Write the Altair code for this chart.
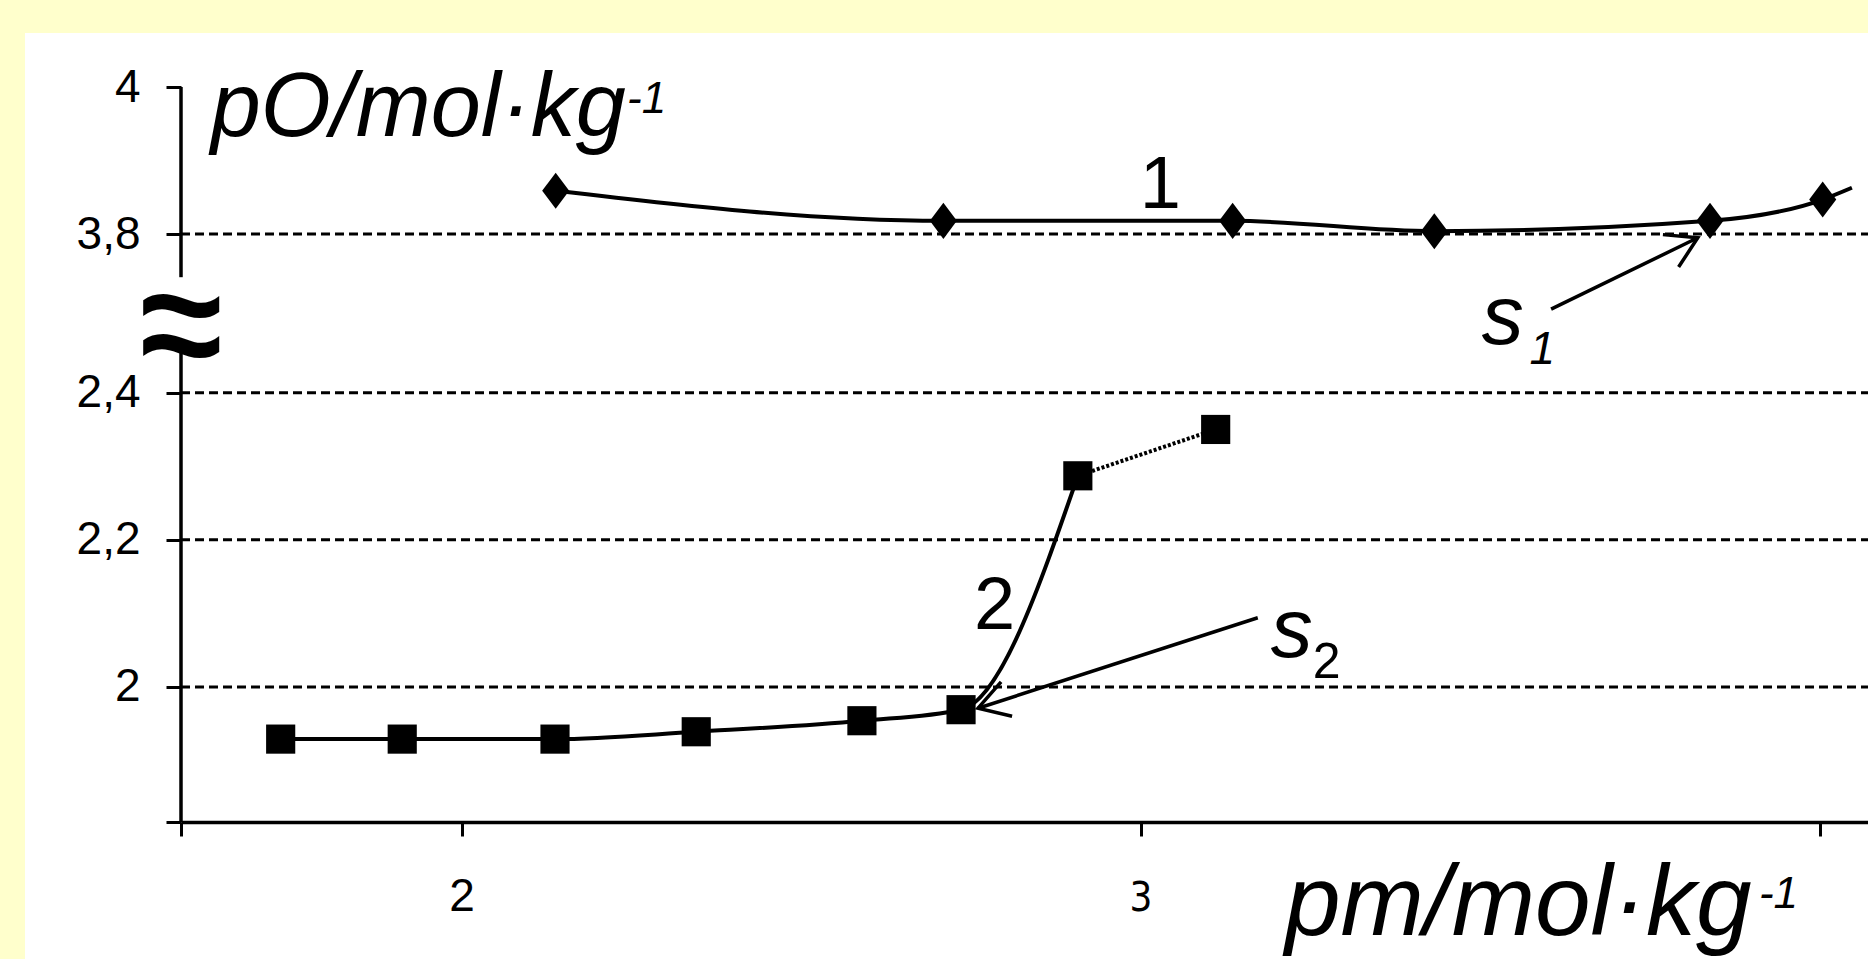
import altair as alt
import pandas as pd

# ---------------- layout ----------------
W, H = 1687, 735
PAD_L, PAD_T, PAD_B = 181, 87, 137

# broken y axis: values above BREAK are shifted down by OFF
BREAK = 3.0
OFF = 1.1844
X_DOMAIN = [1.5862, 4.0707]
Y_DOMAIN = [1.8163, 2.8156]  # display units

# ---------------- data ----------------
s1_x = [2.138, 2.709, 3.135, 3.432, 3.838, 4.004]
s1_y = [3.859, 3.818, 3.818, 3.804, 3.818, 3.847]
s1_tail_x = [4.047]
s1_tail_y = [3.863]

s2_x = [1.733, 1.912, 2.137, 2.345, 2.589, 2.735, 2.907, 3.110]
s2_y = [1.929, 1.929, 1.929, 1.939, 1.954, 1.969, 2.287, 2.350]

y_ticks = [4.0, 3.8, 2.4, 2.2, 2.0]
y_tick_labels = ["4", "3,8", "2,4", "2,2", "2"]
grid_y = [3.8, 2.4, 2.2, 2.0]
x_ticks = [1.5862, 2, 3, 4]
x_label_vals = [2, 3]
x_label_txt = ["2", "3"]
x_label_y = [1.695, 1.695]
x_label_size = [46, 40]

# axis line pieces (display units) and break symbol
axis_seg_top = [2.8156, 2.470]
axis_seg_bot = [2.557, 1.8163]
tilde_center = [2.511]
tilde_lines = ["~", "~"]

# arrows (start -> tip), real units
arr_x = [3.604, 3.172]
arr_y = [3.698, 2.094]
arr_x2 = [3.820, 2.760]
arr_y2 = [3.795, 1.971]
arr_angle = [334.2, 162.2]

# text annotations (left x, baseline y, real units)
it_text = ["pO/mol·kg", "-1", "pm/mol·kg", "-1", "s", "1", "s"]
it_x = [1.630, 2.243, 3.212, 3.910, 3.502, 3.572, 3.191]
it_y = [3.933, 3.964, 1.663, 1.699, 3.651, 3.623, 2.041]
it_size = [90, 44, 100, 44, 84, 46, 84]

nm_text = ["1", "2", "2"]
nm_x = [2.998, 2.754, 3.253]
nm_y = [3.836, 2.079, 2.012]
nm_size = [74, 74, 50]


def disp(v):
    return v - OFF if v > BREAK else v


CALC = f"datum.y > {BREAK} ? datum.y - {OFF} : datum.y"
CALC2 = f"datum.y2 > {BREAK} ? datum.y2 - {OFF} : datum.y2"

y_disp_ticks = [round(disp(v), 4) for v in y_ticks] + [Y_DOMAIN[0]]
y_expr = ""
for v, t in zip(y_ticks, y_tick_labels):
    y_expr += f"abs(datum.value - {round(disp(v), 4)}) < 0.001 ? '{t}' : "
y_expr += "''"

FONT = "Liberation Sans"
NARROW = "Liberation Sans Narrow, DejaVu Sans Condensed, Liberation Sans"

x_axis = alt.Axis(
    values=x_ticks, labels=False, title=None, grid=False,
    tickSize=14, tickWidth=3, tickColor="black",
    domainWidth=3.5, domainColor="black",
)
y_axis = alt.Axis(
    values=y_disp_ticks, labelExpr=y_expr, title=None, grid=False,
    tickSize=15, tickWidth=3, tickColor="black", domain=False,
    labelFont=FONT, labelColor="black", labelFontSize=46, labelPadding=26,
)
XS = alt.Scale(domain=X_DOMAIN, nice=False, zero=False)
YS = alt.Scale(domain=Y_DOMAIN, nice=False, zero=False)


def X(f):
    return alt.X(f, type="quantitative", scale=XS, axis=x_axis)


def Y(f):
    return alt.Y(f, type="quantitative", scale=YS, axis=y_axis)


one = alt.Data(values=[{"a": 1}])

# yellow frame strips
strip_left = alt.Chart(one).mark_rect(color="#FFFFCC").encode(
    x=alt.value(-PAD_L), x2=alt.value(-156), y=alt.value(-PAD_T), y2=alt.value(H + PAD_B))
strip_top = alt.Chart(one).mark_rect(color="#FFFFCC").encode(
    x=alt.value(-PAD_L), x2=alt.value(W), y=alt.value(-PAD_T), y2=alt.value(-54))

grid = alt.Chart(pd.DataFrame({"y": grid_y})).transform_calculate(yd=CALC).mark_rule(
    color="black", strokeWidth=3, strokeDash=[9, 5]).encode(
    y=Y("yd"), x=alt.value(0), x2=alt.value(W))

axis_df = pd.DataFrame({"top": [axis_seg_top[0], axis_seg_top[1]],
                        "bot": [axis_seg_bot[0], axis_seg_bot[1]]})
yaxis_line = alt.Chart(axis_df).mark_rule(color="black", strokeWidth=3.5).encode(
    x=alt.value(0), y=Y("top"), y2=alt.Y2("bot"))

# axis-break symbol: two stacked tildes in one text mark
tildes = alt.Chart(pd.DataFrame({"yd": tilde_center})).mark_text(
    text=tilde_lines, lineHeight=40, font=FONT, fontSize=150, fontWeight="bold",
    align="center", baseline="middle", color="black").encode(
    x=alt.value(0), y=Y("yd"))

df1 = pd.DataFrame({"x": s1_x, "y": s1_y})
df1_line = pd.DataFrame({"x": s1_x + s1_tail_x, "y": s1_y + s1_tail_y})
line1 = alt.Chart(df1_line).transform_calculate(yd=CALC).mark_line(
    color="black", strokeWidth=4, interpolate="monotone", clip=True).encode(
    x=X("x"), y=Y("yd"))
pts1 = alt.Chart(df1).transform_calculate(yd=CALC).mark_point(
    shape="M0,-1L0.75,0L0,1L-0.75,0Z", size=1300, filled=True, color="black", opacity=1).encode(
    x=X("x"), y=Y("yd"))

df2 = pd.DataFrame({"x": s2_x, "y": s2_y})
line2 = alt.Chart(df2.iloc[:7]).transform_calculate(yd=CALC).mark_line(
    color="black", strokeWidth=4, interpolate="monotone").encode(
    x=X("x"), y=Y("yd"))
line2b = alt.Chart(df2.iloc[6:]).transform_calculate(yd=CALC).mark_line(
    color="black", strokeWidth=4, strokeDash=[3, 2]).encode(
    x=X("x"), y=Y("yd"))
pts2 = alt.Chart(df2).transform_calculate(yd=CALC).mark_point(
    shape="square", size=850, filled=True, color="black", opacity=1).encode(
    x=X("x"), y=Y("yd"))

arr_df = pd.DataFrame({"x": arr_x, "y": arr_y, "x2": arr_x2, "y2": arr_y2, "ang": arr_angle})
arrows = alt.Chart(arr_df).transform_calculate(yd=CALC, yd2=CALC2).mark_rule(
    color="black", strokeWidth=3.5).encode(
    x=X("x"), y=Y("yd"), x2=alt.X2("x2"), y2=alt.Y2("yd2"))
heads = alt.Chart(arr_df).transform_calculate(yd2=CALC2).mark_point(
    shape="M-1,-0.6L0,0L-1,0.6", size=3600, filled=False, strokeWidth=3.5,
    color="black", opacity=1).encode(
    x=X("x2"), y=Y("yd2"), angle=alt.Angle("ang:Q", scale=None))

# x tick labels as text (two different sizes/fonts as in the reference)
xl_df = pd.DataFrame({"x": x_label_vals, "y": x_label_y, "t": x_label_txt, "fs": x_label_size})
xl_a = alt.Chart(xl_df.iloc[:1]).mark_text(
    font=FONT, align="center", baseline="alphabetic", color="black").encode(
    x=X("x"), y=Y("y"), text="t:N", size=alt.Size("fs:Q", scale=None))
xl_b = alt.Chart(xl_df.iloc[1:]).mark_text(
    font=NARROW, align="center", baseline="alphabetic", color="black").encode(
    x=X("x"), y=Y("y"), text="t:N", size=alt.Size("fs:Q", scale=None))

it_df = pd.DataFrame({"x": it_x, "y": it_y, "t": it_text, "fs": it_size})
txt_it = alt.Chart(it_df).transform_calculate(yd=CALC).mark_text(
    font=FONT, fontStyle="italic", align="left", baseline="alphabetic", color="black").encode(
    x=X("x"), y=Y("yd"), text="t:N", size=alt.Size("fs:Q", scale=None))
nm_df = pd.DataFrame({"x": nm_x, "y": nm_y, "t": nm_text, "fs": nm_size})
txt_nm = alt.Chart(nm_df).transform_calculate(yd=CALC).mark_text(
    font=FONT, align="left", baseline="alphabetic", color="black").encode(
    x=X("x"), y=Y("yd"), text="t:N", size=alt.Size("fs:Q", scale=None))

chart = alt.layer(
    strip_left, strip_top, grid, yaxis_line, line1, pts1, line2, line2b, pts2,
    arrows, heads, xl_a, xl_b, txt_it, txt_nm, tildes,
).properties(
    width=W, height=H,
    autosize=alt.AutoSizeParams(type="none"),
    padding={"left": PAD_L, "top": PAD_T, "right": 0, "bottom": PAD_B},
    background="white",
).configure_view(stroke=None)

chart.save("out.html", embed_options={"renderer": "svg", "actions": False})
